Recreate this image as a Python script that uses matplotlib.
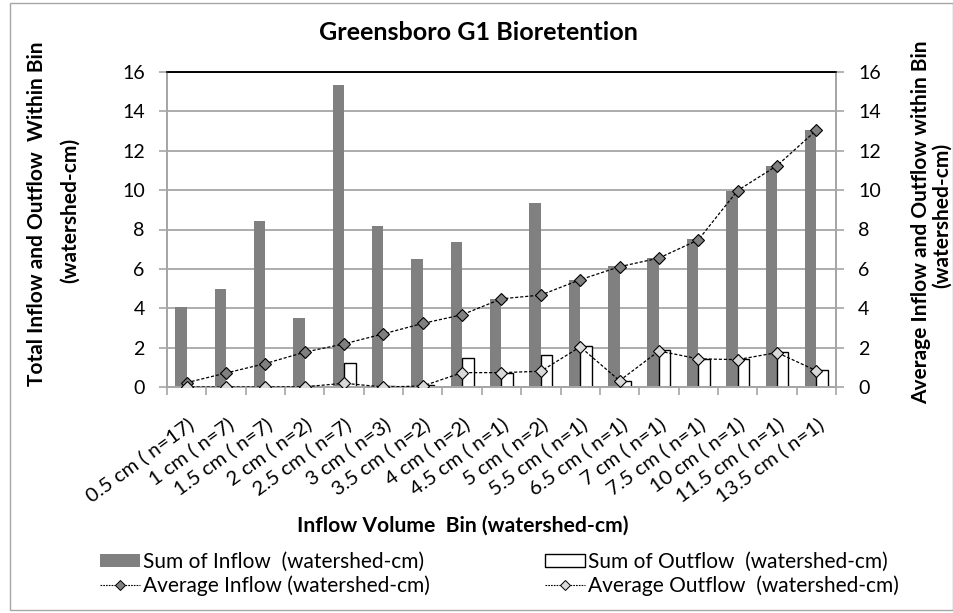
import matplotlib
matplotlib.use("Agg")
import matplotlib.pyplot as plt
import numpy as np
from matplotlib.patches import Rectangle
from matplotlib.lines import Line2D
from matplotlib.font_manager import FontProperties

categories = ["0.5 cm ( n=17)", "1 cm ( n=7)", "1.5 cm ( n=7)", "2 cm ( n=2)", "2.5 cm ( n=7)",
              "3 cm ( n=3)", "3.5 cm ( n=2)", "4 cm ( n=2)", "4.5 cm ( n=1)", "5 cm ( n=2)",
              "5.5 cm ( n=1)", "6.5 cm ( n=1)", "7 cm ( n=1)", "7.5 cm ( n=1)", "10 cm ( n=1)",
              "11.5 cm ( n=1)", "13.5 cm ( n=1)"]
sum_inflow = [4.07, 4.97, 8.44, 3.53, 15.36, 8.17, 6.49, 7.37, 4.48, 9.34, 5.43, 6.15, 6.57, 7.50, 9.97, 11.24, 13.04]
sum_outflow = [0.0, 0.0, 0.0, 0.03, 1.22, 0.05, 0.08, 1.49, 0.71, 1.61, 2.07, 0.32, 1.87, 1.44, 1.41, 1.78, 0.85]
avg_inflow = [0.22, 0.71, 1.19, 1.77, 2.19, 2.70, 3.23, 3.67, 4.48, 4.67, 5.45, 6.11, 6.55, 7.47, 9.98, 11.24, 13.04]
avg_outflow = [0.0, 0.0, 0.0, 0.01, 0.19, 0.0, 0.05, 0.73, 0.73, 0.80, 2.04, 0.32, 1.83, 1.43, 1.39, 1.75, 0.83]
yticks = [0, 2, 4, 6, 8, 10, 12, 14, 16]

FAM = ['Lato', 'DejaVu Sans']
plt.rcParams['font.family'] = FAM

W, H = 954, 613
fig = plt.figure(figsize=(W / 100, H / 100), dpi=100)
renderer = fig.canvas.get_renderer()


def fit(s, target_px, weight="normal", base=10.0):
    w, _, _ = renderer.get_text_width_height_descent(
        s, FontProperties(family=FAM, size=base, weight=weight), ismath=False)
    return base * target_px / w


def fy(y):
    return 1 - y / H


L, R, T, B = 167, 836, 72, 387
ax = fig.add_axes([L / W, 1 - B / H, (R - L) / W, (B - T) / H])
ax2 = ax.twinx()

x = np.arange(len(categories))
bw = 0.29
grid_c = "#a6a6a6"
ax.bar(x - bw / 2, sum_inflow, bw, color="#808080", edgecolor="none", zorder=2)
ax.bar(x + bw / 2, sum_outflow, bw, color="white", edgecolor="black", linewidth=1.0, zorder=2)

ax2.plot(x, avg_inflow, ls=(0, (2.5, 1.5)), color="black", lw=0.9, marker="D", ms=6,
         mfc="#808080", mec="black", mew=0.8, zorder=3)
ax2.plot(x, avg_outflow, ls=(0, (2.5, 1.5)), color="black", lw=0.9, marker="D", ms=6,
         mfc="#d9d9d9", mec="black", mew=0.8, zorder=3)

tick_fs = fit("16", 23)
for a in (ax, ax2):
    a.set_ylim(0, 16)
    a.set_yticks(yticks)
    a.set_yticklabels([str(v) for v in yticks], fontsize=tick_fs)
    a.set_xlim(-0.5, len(categories) - 0.5)
    for s in ("left", "right", "bottom"):
        a.spines[s].set_color(grid_c)
        a.spines[s].set_linewidth(1.3)
    a.spines["top"].set_color("black")
    a.spines["top"].set_linewidth(1.2)
    a.tick_params(axis="y", length=6, width=1.2, color=grid_c, pad=10)

ax.yaxis.grid(True, color=grid_c, lw=1.3, zorder=0)
ax.set_axisbelow(True)

cat_fs = fit(categories[0], 128)
ax.set_xticks(x)
ax.set_xticklabels(categories, rotation=36, ha="right", va="top", rotation_mode="anchor", fontsize=cat_fs)
ax.set_xticks(np.arange(-0.5, len(categories)), minor=True)
ax.tick_params(axis="x", which="major", length=0, pad=20)
ax.tick_params(axis="x", which="minor", length=6, width=1.2, color=grid_c)

title = "Greensboro G1 Bioretention"
fig.text(478 / W, fy(33), title, fontsize=fit(title, 320, "bold"), fontweight="bold",
         ha="center", va="center")

ly1 = "Total Inflow and Outflow  Within Bin"
ly_fs = fit(ly1, 345, "bold")
fig.text(37 / W, fy(214), ly1, fontsize=ly_fs, fontweight="bold", rotation=90, ha="center", va="center")
fig.text(70 / W, fy(210), "(watershed-cm)", fontsize=ly_fs, fontweight="bold", rotation=90,
         ha="center", va="center")

ry1 = "Average Inflow and Outflow within Bin"
fig.text(921 / W, fy(222), ry1, fontsize=ly_fs, fontweight="bold", rotation=90, ha="center", va="center")
fig.text(942 / W, fy(215), "(watershed-cm)", fontsize=ly_fs, fontweight="bold", rotation=90,
         ha="center", va="center")

xl = "Inflow Volume  Bin (watershed-cm)"
fig.text(463 / W, fy(526), xl, fontsize=fit(xl, 333, "bold"), fontweight="bold", ha="center", va="center")

leg_fs = fit("Sum of Inflow  (watershed-cm)", 281)
em = leg_fs * 100 / 72
h_in = Rectangle((0, 0), 1, 1, facecolor="#808080", edgecolor="none")
h_out = Rectangle((0, 0), 1, 1, facecolor="white", edgecolor="black", lw=1.0)
h_ain = Line2D([], [], ls=(0, (1.5, 1)), color="black", lw=0.8, marker="D", ms=5, mfc="#808080",
               mec="black", mew=0.7)
h_aout = Line2D([], [], ls=(0, (1.5, 1)), color="black", lw=0.8, marker="D", ms=5, mfc="#d9d9d9",
                mec="black", mew=0.7)
common = dict(loc="center left", frameon=False, fontsize=leg_fs, handlelength=40 / em,
              handletextpad=3 / em, labelspacing=0.15, borderaxespad=0, borderpad=0, handleheight=0.6)
lg1 = fig.legend([h_in, h_ain], ["Sum of Inflow  (watershed-cm)", "Average Inflow (watershed-cm)"],
                 bbox_to_anchor=(100 / W, fy(574)), **common)
lg2 = fig.legend([h_out, h_aout], ["Sum of Outflow  (watershed-cm)", "Average Outflow  (watershed-cm)"],
                 bbox_to_anchor=(545 / W, fy(574)), **common)

fig.patches.append(Rectangle((10 / W, fy(610)), 943 / W, 607 / H, transform=fig.transFigure,
                             fill=False, edgecolor="#a6a6a6", lw=1.0))

fig.savefig("out.png", dpi=100)
